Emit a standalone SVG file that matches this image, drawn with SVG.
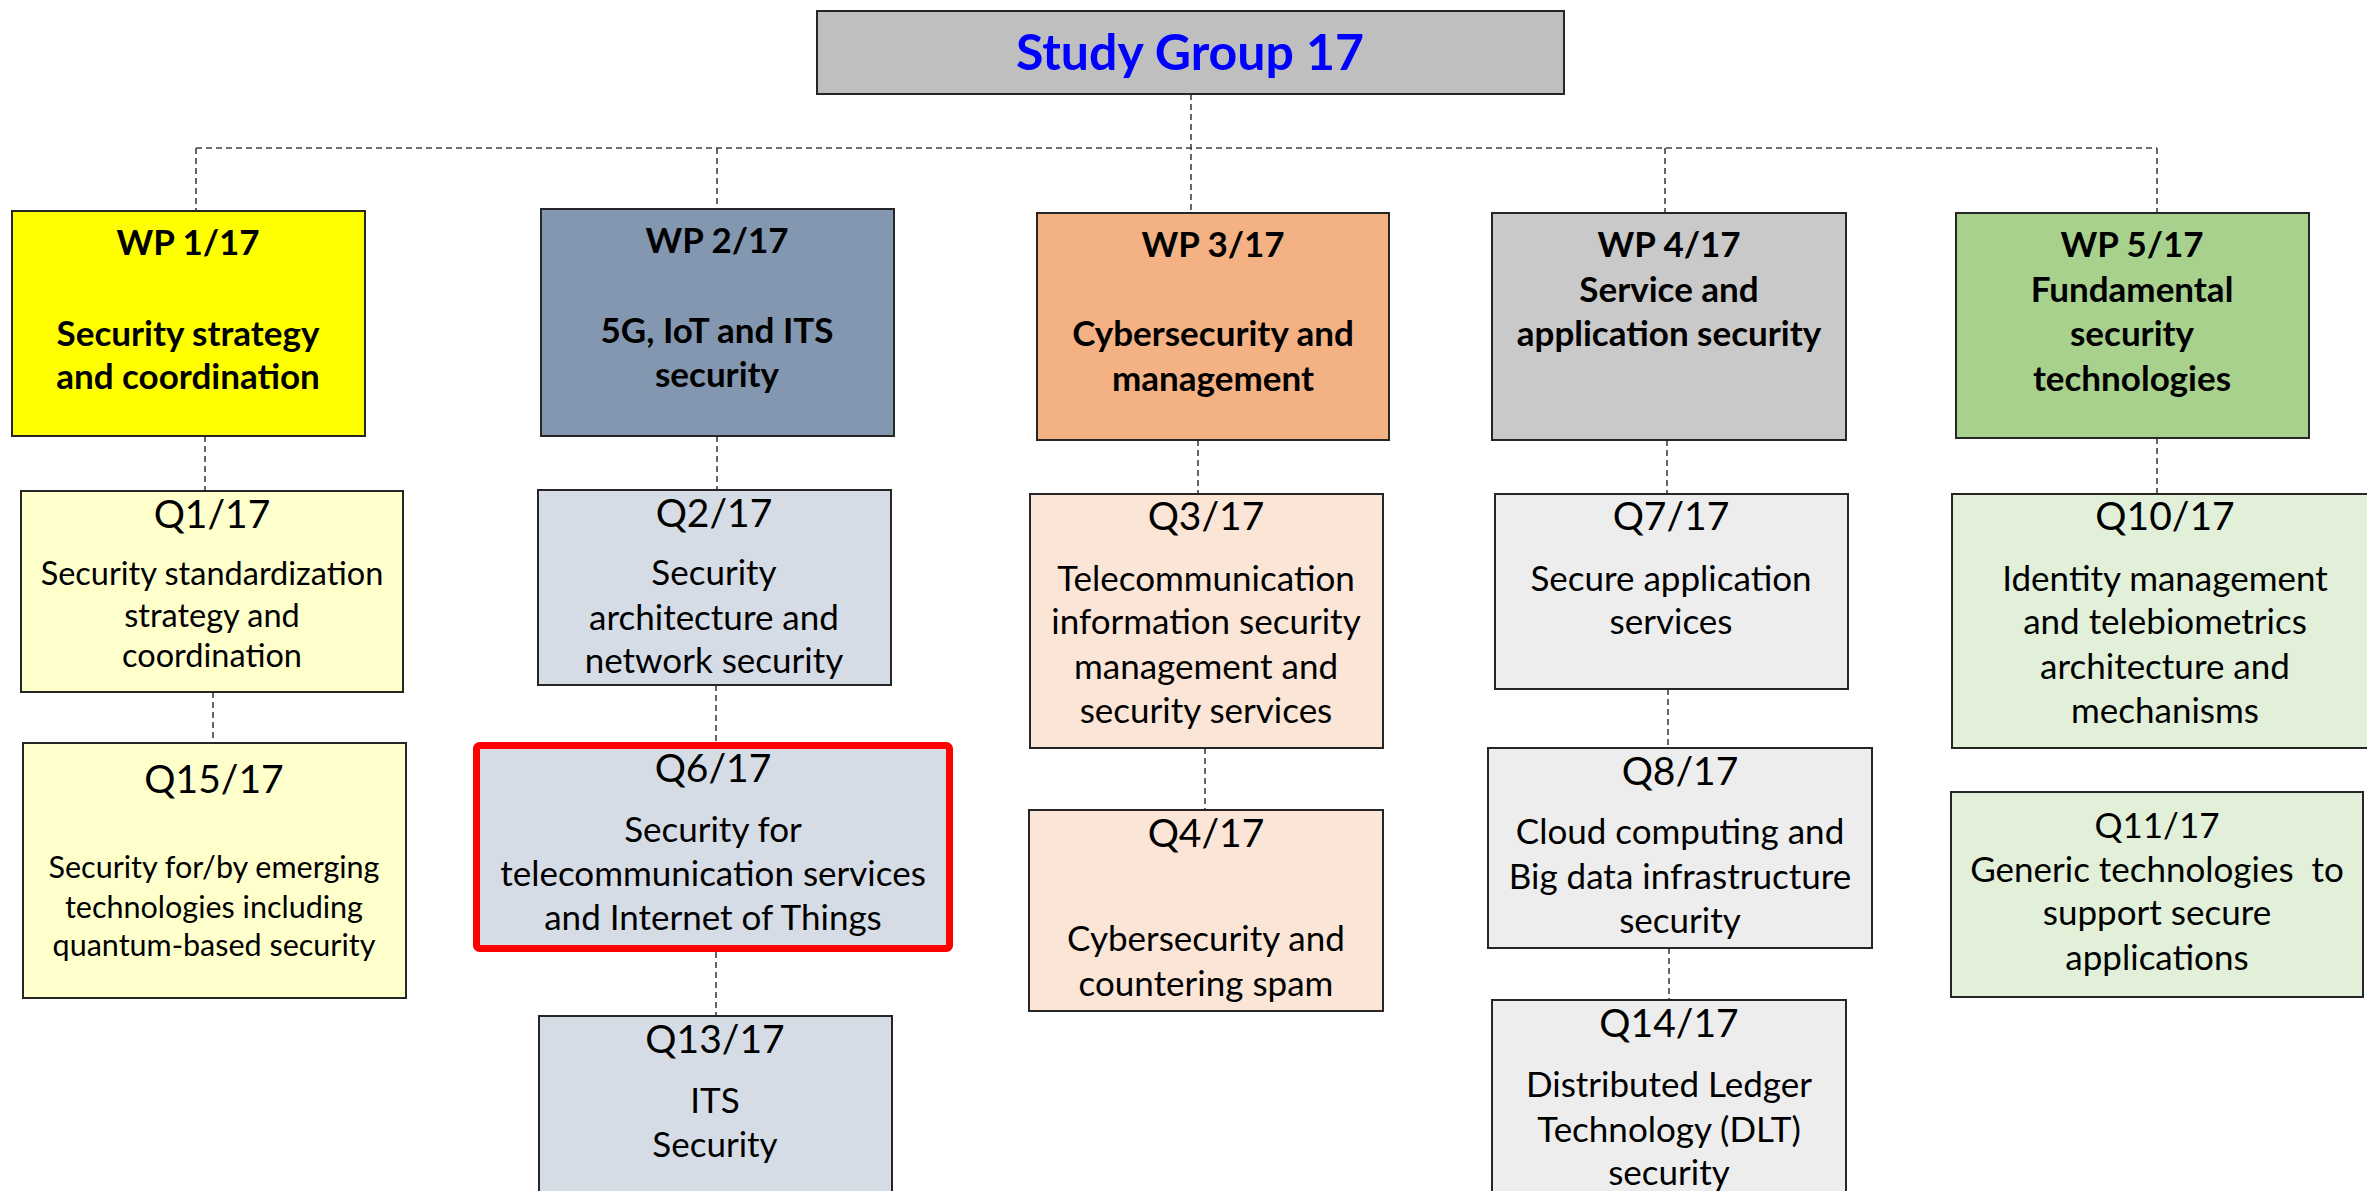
<svg xmlns="http://www.w3.org/2000/svg" width="2367" height="1191" viewBox="0 0 2367 1191">
<style>
 .box{stroke:#262626;stroke-width:2}
 text{font-family:Lato,"Open Sans","Liberation Sans",sans-serif;text-anchor:middle;fill:#000}
 .wp{font-weight:bold;font-size:35px}
 .qt{font-size:39px}
 .qb{font-size:35px}
 .conn{stroke:#404040;stroke-width:1.6;stroke-dasharray:6 4;fill:none}
</style>
<rect width="2367" height="1191" fill="#ffffff"/>
<g id="connectors">
 <path class="conn" d="M1191 94V213"/>
 <path class="conn" d="M196 148H2157"/>
 <path class="conn" d="M196 148V211"/>
 <path class="conn" d="M717 148V209"/>
 <path class="conn" d="M1665 148V213"/>
 <path class="conn" d="M2157 148V213"/>
 <path class="conn" d="M205 436V491"/>
 <path class="conn" d="M213 692V743"/>
 <path class="conn" d="M717 436V490"/>
 <path class="conn" d="M716 685V742"/>
 <path class="conn" d="M716 952V1016"/>
 <path class="conn" d="M1198 440V494"/>
 <path class="conn" d="M1205 748V810"/>
 <path class="conn" d="M1667 440V494"/>
 <path class="conn" d="M1668 689V748"/>
 <path class="conn" d="M1669 948V1000"/>
 <path class="conn" d="M2157 438V494"/>
</g>
<g id="sg17">
 <rect class="box" x="817" y="11" width="747" height="83" fill="#BFBFBF"/>
 <text x="1190" y="70" font-size="50" font-weight="bold" style="fill:#0000FF">Study Group 17</text>
</g>
<g id="wp1">
 <rect class="box" x="12" y="211" width="353" height="225" fill="#FFFF00"/>
 <text class="wp" x="188" y="255">WP 1/17</text>
 <text class="wp" x="188" y="346">Security strategy</text>
 <text class="wp" x="188" y="389">and coordination</text>
</g>
<g id="wp2">
 <rect class="box" x="541" y="209" width="353" height="227" fill="#8497B0"/>
 <text class="wp" x="717" y="253">WP 2/17</text>
 <text class="wp" x="717" y="343">5G, IoT and ITS</text>
 <text class="wp" x="717" y="387">security</text>
</g>
<g id="wp3">
 <rect class="box" x="1037" y="213" width="352" height="227" fill="#F4B183"/>
 <text class="wp" x="1213" y="257">WP 3/17</text>
 <text class="wp" x="1213" y="346">Cybersecurity and</text>
 <text class="wp" x="1213" y="391">management</text>
</g>
<g id="wp4">
 <rect class="box" x="1492" y="213" width="354" height="227" fill="#C9C9C9"/>
 <text class="wp" x="1669" y="257">WP 4/17</text>
 <text class="wp" x="1669" y="302">Service and</text>
 <text class="wp" x="1669" y="346">application security</text>
</g>
<g id="wp5">
 <rect class="box" x="1956" y="213" width="353" height="225" fill="#A9D18E"/>
 <text class="wp" x="2132" y="257">WP 5/17</text>
 <text class="wp" x="2132" y="302">Fundamental</text>
 <text class="wp" x="2132" y="346">security</text>
 <text class="wp" x="2132" y="391">technologies</text>
</g>
<g id="q1">
 <rect class="box" x="21" y="491" width="382" height="201" fill="#FFFFCC"/>
 <text class="qt" x="212" y="528">Q1/17</text>
 <text x="212" y="585" font-size="32.5">Security standardization</text>
 <text x="212" y="627" font-size="32.5">strategy and</text>
 <text x="212" y="667" font-size="32.5">coordination</text>
</g>
<g id="q15">
 <rect class="box" x="23" y="743" width="383" height="255" fill="#FFFFCC"/>
 <text class="qt" x="214" y="793">Q15/17</text>
 <text x="214" y="878" font-size="30.5">Security for/by emerging</text>
 <text x="214" y="918" font-size="30.5">technologies including</text>
 <text x="214" y="956" font-size="30.5">quantum-based security</text>
</g>
<g id="q2">
 <rect class="box" x="538" y="490" width="353" height="195" fill="#D6DCE5"/>
 <text class="qt" x="714" y="527">Q2/17</text>
 <text class="qb" x="714" y="585">Security</text>
 <text class="qb" x="714" y="630">architecture and</text>
 <text class="qb" x="714" y="673">network security</text>
</g>
<g id="q6">
 <rect x="476.5" y="745.5" width="473" height="203" rx="3" fill="#D6DCE5" stroke="#FF0000" stroke-width="7"/>
 <text class="qt" x="713" y="782">Q6/17</text>
 <text class="qb" x="713" y="842">Security for</text>
 <text class="qb" x="713" y="886">telecommunication services</text>
 <text class="qb" x="713" y="930">and Internet of Things</text>
</g>
<g id="q13">
 <rect class="box" x="539" y="1016" width="353" height="200" fill="#D6DCE5"/>
 <text class="qt" x="715" y="1053">Q13/17</text>
 <text class="qb" x="715" y="1113">ITS</text>
 <text class="qb" x="715" y="1157">Security</text>
</g>
<g id="q3">
 <rect class="box" x="1030" y="494" width="353" height="254" fill="#FBE5D6"/>
 <text class="qt" x="1206" y="530">Q3/17</text>
 <text class="qb" x="1206" y="591">Telecommunication</text>
 <text class="qb" x="1206" y="634">information security</text>
 <text class="qb" x="1206" y="679">management and</text>
 <text class="qb" x="1206" y="723">security services</text>
</g>
<g id="q4">
 <rect class="box" x="1029" y="810" width="354" height="201" fill="#FBE5D6"/>
 <text class="qt" x="1206" y="847">Q4/17</text>
 <text class="qb" x="1206" y="951">Cybersecurity and</text>
 <text class="qb" x="1206" y="996">countering spam</text>
</g>
<g id="q7">
 <rect class="box" x="1495" y="494" width="353" height="195" fill="#EDEDED"/>
 <text class="qt" x="1671" y="530">Q7/17</text>
 <text class="qb" x="1671" y="591">Secure application</text>
 <text class="qb" x="1671" y="634">services</text>
</g>
<g id="q8">
 <rect class="box" x="1488" y="748" width="384" height="200" fill="#EDEDED"/>
 <text class="qt" x="1680" y="785">Q8/17</text>
 <text class="qb" x="1680" y="844">Cloud computing and</text>
 <text class="qb" x="1680" y="889">Big data infrastructure</text>
 <text class="qb" x="1680" y="933">security</text>
</g>
<g id="q14">
 <rect class="box" x="1492" y="1000" width="354" height="220" fill="#EDEDED"/>
 <text class="qt" x="1669" y="1037">Q14/17</text>
 <text class="qb" x="1669" y="1097">Distributed Ledger</text>
 <text class="qb" x="1669" y="1142">Technology (DLT)</text>
 <text class="qb" x="1669" y="1185">security</text>
</g>
<g id="q10">
 <rect class="box" x="1952" y="494" width="430" height="254" fill="#E2F0D9"/>
 <text class="qt" x="2165" y="530">Q10/17</text>
 <text class="qb" x="2165" y="591">Identity management</text>
 <text class="qb" x="2165" y="634">and telebiometrics</text>
 <text class="qb" x="2165" y="679">architecture and</text>
 <text class="qb" x="2165" y="723">mechanisms</text>
</g>
<g id="q11">
 <rect class="box" x="1951" y="792" width="412" height="205" fill="#E2F0D9"/>
 <text class="qb" x="2157" y="838">Q11/17</text>
 <text class="qb" x="2157" y="882" xml:space="preserve">Generic technologies  to</text>
 <text class="qb" x="2157" y="925">support secure</text>
 <text class="qb" x="2157" y="970">applications</text>
</g>
</svg>
